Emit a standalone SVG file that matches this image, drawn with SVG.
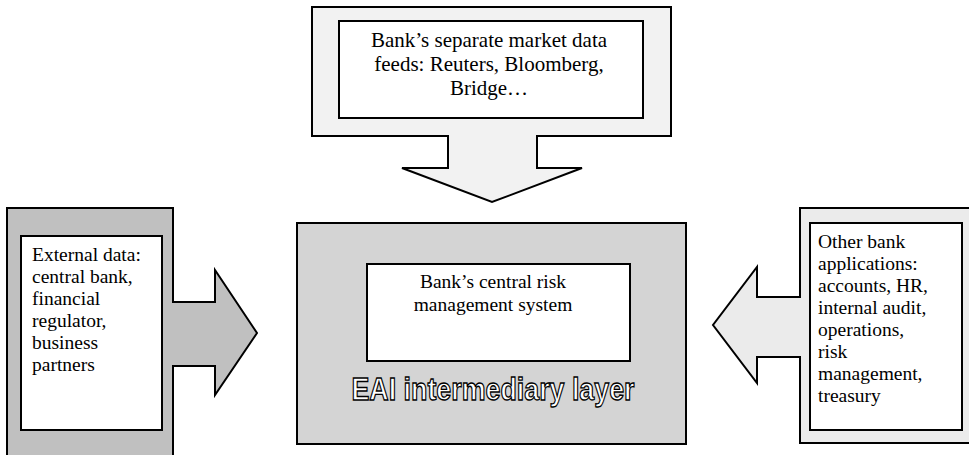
<svg xmlns="http://www.w3.org/2000/svg" width="969" height="455" viewBox="0 0 969 455">
<style>
.sh{stroke:#000;stroke-width:2;stroke-linejoin:miter}
.box{fill:#fff;stroke:#000;stroke-width:2}
.t{font-family:"Liberation Serif","Times New Roman",serif;font-size:19.5px;fill:#000}
.tc{text-anchor:middle}
.eai{font-family:"Liberation Sans",Arial,sans-serif;font-weight:bold;font-size:32px;fill:#fff;stroke:#000;stroke-width:1.3;text-anchor:middle}
</style>
<rect width="969" height="455" fill="#fff"/>
<g id="connectors"></g>
<g id="center">
<rect x="297" y="223" width="389" height="221" fill="#d4d4d4" class="sh"/>
<rect x="367" y="264" width="263" height="97" class="box"/>
<text class="t tc" x="493" y="288">Bank’s central risk</text>
<text class="t tc" x="493" y="311">management system</text>
<text class="eai" x="493" y="400" textLength="283" lengthAdjust="spacingAndGlyphs">EAI intermediary layer</text>
</g>
<g id="top">
<path class="sh" fill="#f2f2f2" d="M312,7 H671 V136 H537 V168 H582 L492,202 L402,168 H448 V136 H312 Z"/>
<rect x="339" y="21" width="304" height="97" class="box"/>
<text class="t tc" style="font-size:21px" x="489" y="47">Bank’s separate market data</text>
<text class="t tc" style="font-size:21px" x="489" y="71">feeds: Reuters, Bloomberg,</text>
<text class="t tc" style="font-size:21px" x="489" y="95">Bridge…</text>
</g>
<g id="left">
<path class="sh" fill="#c0c0c0" d="M7,208 H173 V302 H215 V270 L257,333 L215,395 V366 H173 V462 H7 Z"/>
<rect x="21" y="236" width="141" height="194" class="box"/>
<text class="t" x="32" y="261">External data:</text>
<text class="t" x="32" y="283">central bank,</text>
<text class="t" x="32" y="305">financial</text>
<text class="t" x="32" y="327">regulator,</text>
<text class="t" x="32" y="349">business</text>
<text class="t" x="32" y="371">partners</text>
</g>
<g id="right">
<path class="sh" fill="#ebebeb" d="M800,208 H975 V443 H800 V357 H757 V383 L713,325 L757,267 V297 H800 Z"/>
<rect x="810" y="223" width="152" height="207" class="box"/>
<text class="t" x="818" y="248">Other bank</text>
<text class="t" x="818" y="270">applications:</text>
<text class="t" x="818" y="292">accounts, HR,</text>
<text class="t" x="818" y="314">internal audit,</text>
<text class="t" x="818" y="336">operations,</text>
<text class="t" x="818" y="358">risk</text>
<text class="t" x="818" y="380">management,</text>
<text class="t" x="818" y="402">treasury</text>
</g>
</svg>
